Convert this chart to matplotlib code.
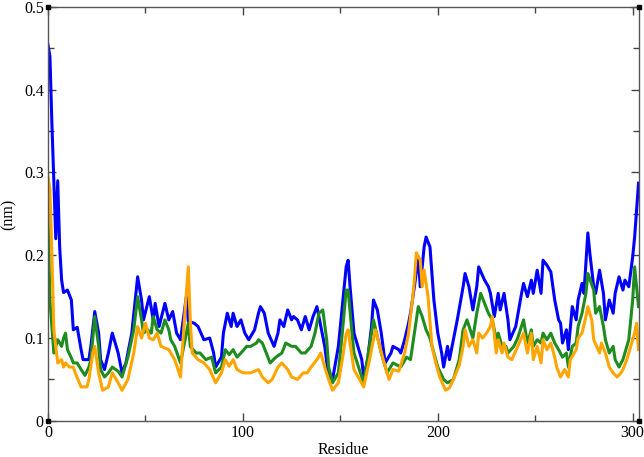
import matplotlib
matplotlib.use("Agg")
import matplotlib.pyplot as plt
from matplotlib.ticker import MultipleLocator

# ---------------- data ----------------
blue_res = [0, 1, 2, 3, 4, 5, 6, 7, 8, 10, 12, 13, 15, 17, 18, 21, 22, 24, 26, 27,
            29, 31, 33, 36, 38, 40, 43, 46, 48, 49, 52, 54, 55, 57, 60, 62, 64, 66, 68, 71,
            72, 75, 77, 80, 83, 85, 86, 89, 90, 92, 94, 95, 97, 99, 101, 103, 106, 108, 109, 111,
            113, 116, 118, 119, 121, 123, 125, 126, 128, 130, 132, 134, 136, 138, 140, 142, 144, 146, 149, 151,
            153, 154, 155, 157, 159, 161, 162, 164, 166, 167, 169, 171, 173, 176, 177, 180, 181, 183, 185, 186,
            188, 190, 191, 193, 194, 196, 198, 200, 202, 203, 205, 206, 208, 210, 213, 214, 216, 218, 220, 221,
            224, 226, 227, 229, 231, 232, 234, 236, 237, 240, 243, 244, 246, 248, 249, 251, 253, 254, 256, 258,
            260, 262, 263, 264, 266, 267, 269, 271, 272, 274, 275, 277, 278, 280, 281, 283, 285, 286, 288, 290,
            291, 293, 295, 296, 298, 300, 301, 303]
blue_rmsf = [0.454, 0.44, 0.36, 0.29, 0.22, 0.29, 0.21, 0.17, 0.155, 0.158, 0.146, 0.11, 0.113, 0.086, 0.074, 0.074, 0.09, 0.132, 0.106, 0.074,
             0.062, 0.082, 0.106, 0.082, 0.058, 0.07, 0.106, 0.174, 0.146, 0.122, 0.15, 0.122, 0.142, 0.114, 0.142, 0.122, 0.132, 0.106, 0.098, 0.15,
             0.12, 0.118, 0.114, 0.098, 0.10, 0.082, 0.065, 0.077, 0.106, 0.13, 0.114, 0.13, 0.114, 0.122, 0.106, 0.098, 0.11, 0.13, 0.138, 0.13,
             0.106, 0.09, 0.106, 0.122, 0.114, 0.134, 0.122, 0.126, 0.122, 0.11, 0.126, 0.11, 0.126, 0.138, 0.114, 0.09, 0.053, 0.05, 0.09, 0.138,
             0.186, 0.194, 0.162, 0.106, 0.09, 0.074, 0.053, 0.074, 0.114, 0.146, 0.134, 0.106, 0.07, 0.082, 0.09, 0.086, 0.082, 0.098, 0.118, 0.13,
             0.162, 0.198, 0.162, 0.21, 0.222, 0.21, 0.146, 0.106, 0.082, 0.065, 0.09, 0.074, 0.098, 0.122, 0.162, 0.178, 0.162, 0.134, 0.162, 0.186,
             0.17, 0.162, 0.154, 0.126, 0.154, 0.134, 0.154, 0.122, 0.098, 0.114, 0.154, 0.166, 0.15, 0.17, 0.154, 0.182, 0.154, 0.194, 0.188, 0.18,
             0.146, 0.122, 0.118, 0.094, 0.11, 0.086, 0.138, 0.122, 0.146, 0.166, 0.154, 0.227, 0.203, 0.162, 0.154, 0.182, 0.154, 0.122, 0.146, 0.13,
             0.154, 0.174, 0.158, 0.17, 0.162, 0.198, 0.222, 0.287]

green_res = [0, 1, 3, 5, 7, 8, 9, 10, 12, 13, 15, 17, 19, 21, 22, 24, 26, 27, 29, 31,
             33, 36, 38, 41, 44, 46, 48, 49, 51, 53, 54, 56, 58, 60, 62, 63, 65, 68, 71, 72,
             73, 76, 78, 81, 84, 86, 89, 91, 93, 95, 97, 99, 102, 104, 107, 108, 110, 112, 114, 117,
             120, 122, 125, 127, 130, 132, 135, 137, 139, 141, 143, 144, 146, 149, 151, 153, 154, 156, 157, 162,
             166, 167, 171, 174, 177, 181, 184, 186, 188, 190, 192, 194, 196, 198, 200, 203, 205, 208, 211, 213,
             215, 218, 220, 222, 224, 226, 228, 230, 231, 233, 235, 236, 239, 241, 244, 246, 248, 249, 251, 253,
             254, 256, 258, 260, 262, 264, 266, 267, 269, 271, 272, 274, 276, 277, 280, 281, 283, 285, 286, 288,
             290, 291, 293, 295, 296, 298, 300, 301, 302, 303]
green_rmsf = [0.25, 0.146, 0.082, 0.098, 0.09, 0.10, 0.106, 0.086, 0.076, 0.07, 0.07, 0.062, 0.055, 0.065, 0.074, 0.126, 0.09, 0.062, 0.053, 0.058,
              0.065, 0.06, 0.053, 0.077, 0.11, 0.15, 0.122, 0.106, 0.11, 0.106, 0.126, 0.11, 0.106, 0.122, 0.11, 0.098, 0.09, 0.07, 0.106, 0.118,
              0.09, 0.082, 0.082, 0.074, 0.077, 0.058, 0.065, 0.086, 0.08, 0.086, 0.077, 0.082, 0.09, 0.09, 0.094, 0.098, 0.094, 0.082, 0.07, 0.077,
              0.082, 0.094, 0.09, 0.09, 0.082, 0.082, 0.09, 0.106, 0.13, 0.134, 0.098, 0.065, 0.046, 0.058, 0.106, 0.158, 0.158, 0.106, 0.082, 0.046,
              0.106, 0.122, 0.082, 0.058, 0.07, 0.065, 0.077, 0.074, 0.106, 0.138, 0.126, 0.11, 0.10, 0.082, 0.065, 0.05, 0.046, 0.05, 0.074, 0.11,
              0.122, 0.10, 0.13, 0.154, 0.142, 0.13, 0.122, 0.098, 0.106, 0.09, 0.09, 0.082, 0.09, 0.10, 0.122, 0.094, 0.11, 0.09, 0.098, 0.094,
              0.106, 0.098, 0.106, 0.094, 0.086, 0.077, 0.082, 0.065, 0.09, 0.094, 0.114, 0.13, 0.154, 0.178, 0.158, 0.13, 0.138, 0.114, 0.098, 0.082,
              0.09, 0.074, 0.065, 0.074, 0.082, 0.098, 0.146, 0.186, 0.162, 0.138]

orange_res = [0, 1, 2, 3, 5, 7, 8, 9, 11, 13, 14, 17, 20, 21, 23, 24, 26, 28, 31, 33,
              36, 38, 41, 44, 46, 48, 50, 52, 54, 56, 58, 62, 63, 65, 68, 70, 72, 73, 74, 77,
              80, 83, 86, 89, 91, 93, 95, 97, 100, 104, 108, 110, 113, 115, 118, 120, 123, 125, 128, 131,
              133, 135, 138, 140, 142, 144, 146, 149, 151, 153, 154, 157, 162, 165, 168, 172, 175, 177, 180, 183,
              185, 187, 188, 189, 191, 192, 193, 195, 197, 199, 201, 204, 206, 208, 211, 213, 214, 216, 218, 220,
              221, 223, 225, 227, 228, 230, 231, 233, 234, 236, 238, 241, 244, 246, 248, 249, 251, 253, 254, 256,
              258, 260, 261, 263, 265, 267, 268, 271, 272, 274, 276, 277, 279, 280, 283, 284, 286, 288, 290, 292,
              294, 295, 297, 299, 301, 302, 303]
orange_rmsf = [0.295, 0.28, 0.20, 0.11, 0.07, 0.074, 0.065, 0.07, 0.065, 0.065, 0.058, 0.041, 0.041, 0.05, 0.082, 0.09, 0.058, 0.037, 0.041, 0.058,
               0.046, 0.037, 0.05, 0.082, 0.114, 0.10, 0.118, 0.10, 0.098, 0.106, 0.09, 0.086, 0.082, 0.074, 0.053, 0.122, 0.186, 0.122, 0.082, 0.074,
               0.07, 0.062, 0.046, 0.058, 0.074, 0.066, 0.074, 0.062, 0.058, 0.058, 0.062, 0.053, 0.046, 0.05, 0.065, 0.07, 0.062, 0.053, 0.05, 0.058,
               0.058, 0.065, 0.074, 0.082, 0.065, 0.05, 0.037, 0.046, 0.074, 0.105, 0.11, 0.062, 0.041, 0.074, 0.11, 0.074, 0.05, 0.062, 0.06, 0.082,
               0.106, 0.146, 0.17, 0.203, 0.194, 0.162, 0.182, 0.15, 0.09, 0.07, 0.053, 0.037, 0.04, 0.05, 0.067, 0.09, 0.11, 0.09, 0.098, 0.082,
               0.106, 0.10, 0.106, 0.114, 0.126, 0.082, 0.098, 0.082, 0.094, 0.077, 0.074, 0.09, 0.106, 0.082, 0.106, 0.074, 0.09, 0.07, 0.098, 0.086,
               0.094, 0.077, 0.065, 0.053, 0.062, 0.053, 0.074, 0.086, 0.10, 0.106, 0.126, 0.138, 0.122, 0.098, 0.082, 0.094, 0.082, 0.065, 0.058, 0.053,
               0.058, 0.062, 0.074, 0.09, 0.106, 0.118, 0.086]

x_ticks = [0, 100, 200, 300]
y_ticks = [0, 0.1, 0.2, 0.3, 0.4, 0.5]
y_tick_labels = ["0", "0.1", "0.2", "0.3", "0.4", "0.5"]

# ---------------- plot ----------------
plt.rcParams["font.family"] = ["Liberation Serif", "DejaVu Serif"]

fig = plt.figure(figsize=(6.44, 4.57), dpi=100)
ax = fig.add_axes([0.0745, 0.079, 0.917, 0.906])

ax.plot(blue_res, blue_rmsf, color="#0000ff", lw=2.2)
ax.plot(green_res, green_rmsf, color="#1e8c1e", lw=2.2)
ax.plot(orange_res, orange_rmsf, color="#ffa500", lw=2.2)

ax.set_xlim(0, 303)
ax.set_ylim(0, 0.5)
ax.set_xticks(x_ticks)
ax.set_yticks(y_ticks)
ax.set_yticklabels(y_tick_labels)
ax.xaxis.set_minor_locator(MultipleLocator(50))
ax.yaxis.set_minor_locator(MultipleLocator(0.05))

ax.tick_params(which="both", direction="in", top=True, right=True,
               color="#444444", width=1, labelsize=11.5, pad=3)
ax.tick_params(which="major", length=6)
ax.tick_params(which="minor", length=4)

for s in ax.spines.values():
    s.set_color("#555555")
    s.set_linewidth(1)

# little black squares grace draws at the frame corners
ax.plot([0, 0, 1, 1], [0, 1, 0, 1], "s", ms=3.5, color="black",
        transform=ax.transAxes, clip_on=False, zorder=5)

ax.set_xlabel("Residue", fontsize=11.5, labelpad=1)
ax.set_ylabel("(nm)", fontsize=11.5, labelpad=5)

fig.savefig("out.png", dpi=100)
